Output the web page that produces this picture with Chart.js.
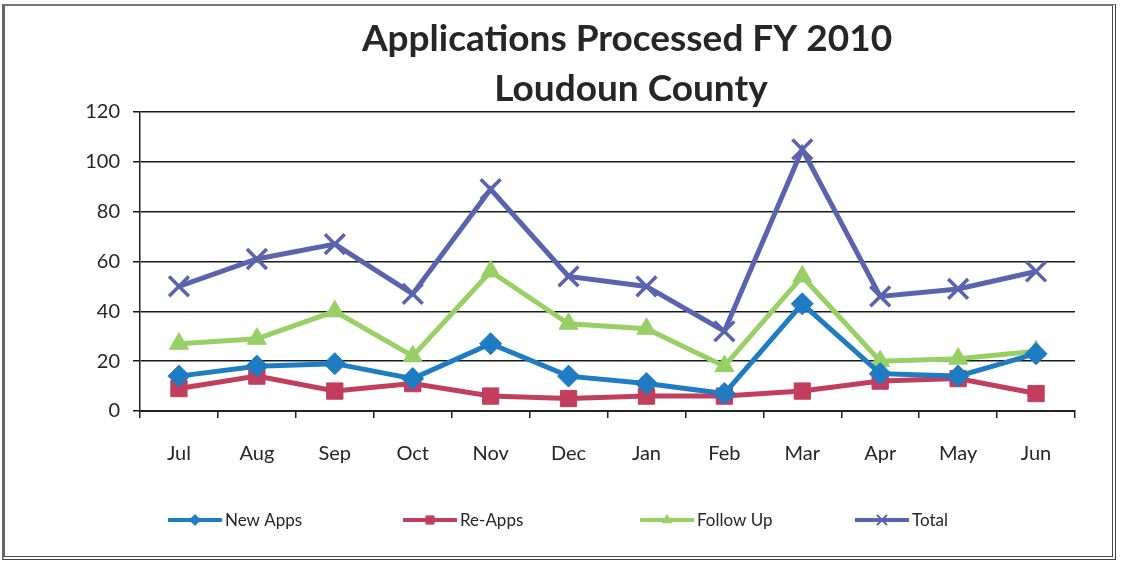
<!DOCTYPE html>
<html>
<head>
<meta charset="UTF-8">
<title>Applications Processed FY 2010</title>
<script src="https://cdn.jsdelivr.net/npm/chart.js@4.4.0/dist/chart.umd.min.js"></script>
<style>
  html, body { margin: 0; padding: 0; background: #fff; }
  #frame {
    position: absolute; left: 2px; top: 4px; width: 1107px; height: 550px;
    border: 1px solid #888; border-right: 4px double #444; border-bottom: 4px double #444;
    border-left: 3px solid #666; border-top: 2px solid #777;
  }
  #wrap { position: absolute; left: 0; top: 0; width: 1122px; height: 565px; }
</style>
</head>
<body>
<div id="frame"></div>
<div id="wrap"><canvas id="chart" width="1122" height="565"></canvas></div>
<script>
const months = ['Jul', 'Aug', 'Sep', 'Oct', 'Nov', 'Dec', 'Jan', 'Feb', 'Mar', 'Apr', 'May', 'Jun'];
const newApps = [14, 18, 19, 13, 27, 14, 11, 7, 43, 15, 14, 23];
const reApps = [9, 14, 8, 11, 6, 5, 6, 6, 8, 12, 13, 7];
const followUp = [27, 29, 40, 22, 56, 35, 33, 18, 54, 20, 21, 24];
const total = [50, 61, 67, 47, 89, 54, 50, 32, 105, 46, 49, 56];
const titleLines = ['Applications Processed FY 2010', 'Loudoun County'];

const FONT = 'Lato, "Open Sans", sans-serif';

function series(label, data, color, style, radius) {
    return {
        label: label,
        data: data,
        borderColor: color,
        backgroundColor: color,
        borderWidth: 5,
        pointStyle: style,
        pointRadius: radius,
        pointBorderWidth: style === 'crossRot' ? 3.5 : 1,
        tension: 0,
        fill: false
    };
}

// title + legend drawn in Excel-like positions
const decorations = {
    id: 'decorations',
    afterDraw(chart) {
        const ctx = chart.ctx;
        ctx.save();
        ctx.fillStyle = '#262626';
        ctx.textAlign = 'center';
        ctx.textBaseline = 'middle';
        ctx.font = 'bold 37px ' + FONT;
        ctx.fillText(titleLines[0], 627, 39);
        ctx.fillText(titleLines[1], 631, 89);

        const slots = [168, 403, 640, 855];
        const y = 520;
        chart.data.datasets.forEach((ds, i) => {
            const x0 = slots[i];
            ctx.strokeStyle = ds.borderColor;
            ctx.fillStyle = ds.backgroundColor;
            ctx.lineWidth = 4;
            ctx.beginPath();
            ctx.moveTo(x0, y);
            ctx.lineTo(x0 + 54, y);
            ctx.stroke();
            ctx.lineWidth = ds.pointStyle === 'crossRot' ? 2 : 1;
            Chart.helpers.drawPoint(ctx, {
                pointStyle: ds.pointStyle,
                radius: ds.pointRadius * 0.5,
                rotation: 0,
                borderWidth: ctx.lineWidth
            }, x0 + 27, y);
            ctx.fillStyle = '#262626';
            ctx.textAlign = 'left';
            ctx.font = '17px ' + FONT;
            ctx.fillText(ds.label, x0 + 57, y + 1);
        });
        ctx.restore();
    }
};

new Chart(document.getElementById('chart').getContext('2d'), {
    type: 'line',
    data: {
        labels: months,
        datasets: [
            series('New Apps', newApps, '#1f7cc3', 'rectRot', 11),
            series('Re-Apps', reApps, '#c23e5e', 'rect', 11.5),
            series('Follow Up', followUp, '#98d066', 'triangle', 11),
            series('Total', total, '#5a63ae', 'crossRot', 14)
        ]
    },
    options: {
        responsive: false,
        animation: false,
        layout: { padding: { left: 0, right: 47, top: 112, bottom: 75 } },
        plugins: {
            legend: { display: false },
            title: { display: false },
            tooltip: { enabled: false }
        },
        scales: {
            x: {
                offset: true,
                grid: {
                    offset: true,
                    drawOnChartArea: false,
                    drawTicks: true,
                    tickLength: 7,
                    color: '#222',
                    lineWidth: 1.5
                },
                border: { color: '#222', width: 2 },
                ticks: { color: '#262626', font: { family: FONT, size: 20 }, padding: 24 }
            },
            y: {
                min: 0,
                max: 120,
                afterFit(scale) { scale.width = 140; },
                ticks: { stepSize: 20, color: '#262626', font: { family: FONT, size: 20 }, padding: 13 },
                grid: { color: '#1a1a1a', lineWidth: 1.5, tickLength: 7 },
                border: { color: '#222', width: 1.5 }
            }
        }
    },
    plugins: [decorations]
});
</script>
</body>
</html>
